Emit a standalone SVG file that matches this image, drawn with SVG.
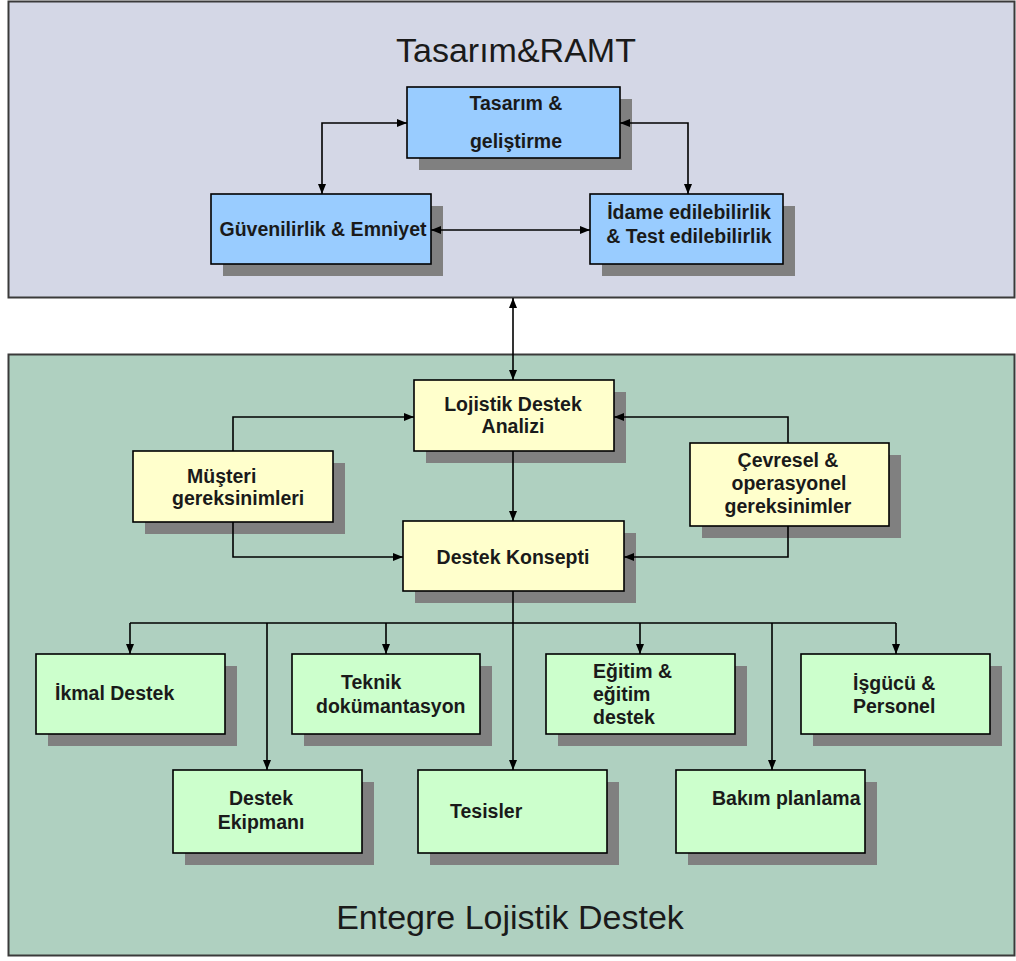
<svg xmlns="http://www.w3.org/2000/svg" width="1016" height="961" viewBox="0 0 1016 961">
  <defs>
    <!-- fixed-direction arrowheads -->
    <marker id="arrow-r" viewBox="0 0 10 8" refX="10" refY="4" markerWidth="10" markerHeight="8" markerUnits="userSpaceOnUse" overflow="visible">
      <path d="M0,0 L10,4 L0,8 z" fill="#000"/>
    </marker>
    <marker id="arrow-l" viewBox="0 0 10 8" refX="0" refY="4" markerWidth="10" markerHeight="8" markerUnits="userSpaceOnUse" overflow="visible">
      <path d="M10,0 L0,4 L10,8 z" fill="#000"/>
    </marker>
    <marker id="arrow-d" viewBox="0 0 8 10" refX="4" refY="10" markerWidth="8" markerHeight="10" markerUnits="userSpaceOnUse" overflow="visible">
      <path d="M0,0 L8,0 L4,10 z" fill="#000"/>
    </marker>
    <marker id="arrow-u" viewBox="0 0 8 10" refX="4" refY="0" markerWidth="8" markerHeight="10" markerUnits="userSpaceOnUse" overflow="visible">
      <path d="M0,10 L8,10 L4,0 z" fill="#000"/>
    </marker>
    <style>
      .panel { stroke: #3a3a3a; stroke-width: 2; }
      .shadow { fill: #808080; }
      .box { stroke: #000; stroke-width: 1.6; }
      .blue { fill: #99CCFF; }
      .yellow { fill: #FFFFCC; }
      .green { fill: #CCFFCC; }
      .lbl { font-family: "Liberation Sans", Arial, sans-serif; font-weight: bold; font-size: 19.5px; fill: #1a1a1a; }
      .mid { text-anchor: middle; }
      .title { font-family: "Liberation Sans", Arial, sans-serif; font-size: 34px; fill: #1a1a1a; text-anchor: middle; }
      .wire { fill: none; stroke: #000; stroke-width: 1.6; }
    </style>
  </defs>

  <!-- background panels -->
  <rect x="0" y="0" width="1016" height="961" fill="#ffffff"/>
  <g id="panel-ramt">
    <rect class="panel" x="8.5" y="1.5" width="1006" height="296" fill="#D4D7E6"/>
    <text class="title" x="516" y="62">Tasarım&amp;RAMT</text>
  </g>
  <g id="panel-eld">
    <rect class="panel" x="8.5" y="354.5" width="1006" height="601" fill="#AFD0C0"/>
    <text class="title" x="510" y="929">Entegre Lojistik Destek</text>
  </g>

  <!-- design / RAMT nodes -->
  <g id="tasarim">
    <rect class="shadow" x="419" y="99" width="213" height="71"/>
    <rect class="box blue" x="407" y="87" width="213" height="71"/>
    <text class="lbl mid" x="516" y="110">Tasarım &amp;</text>
    <text class="lbl mid" x="516" y="148">geliştirme</text>
  </g>
  <g id="guvenilirlik">
    <rect class="shadow" x="223" y="206" width="220" height="70"/>
    <rect class="box blue" x="211" y="194" width="220" height="70"/>
    <text class="lbl mid" x="323" y="236">Güvenilirlik &amp; Emniyet</text>
  </g>
  <g id="idame">
    <rect class="shadow" x="602" y="206" width="193" height="70"/>
    <rect class="box blue" x="590" y="194" width="193" height="70"/>
    <text class="lbl mid" x="689" y="219">İdame edilebilirlik</text>
    <text class="lbl mid" x="689" y="243">&amp; Test edilebilirlik</text>
  </g>

  <!-- logistics analysis nodes -->
  <g id="lda">
    <rect class="shadow" x="426" y="392" width="200" height="71"/>
    <rect class="box yellow" x="414" y="380" width="200" height="71"/>
    <text class="lbl mid" x="513" y="411">Lojistik Destek</text>
    <text class="lbl mid" x="513" y="433">Analizi</text>
  </g>
  <g id="musteri">
    <rect class="shadow" x="145" y="463" width="200" height="71"/>
    <rect class="box yellow" x="133" y="451" width="200" height="71"/>
    <text class="lbl" x="187" y="483">Müşteri</text>
    <text class="lbl" x="172" y="505">gereksinimleri</text>
  </g>
  <g id="cevresel">
    <rect class="shadow" x="702" y="455" width="199" height="83"/>
    <rect class="box yellow" x="690" y="443" width="199" height="83"/>
    <text class="lbl mid" x="788" y="467">Çevresel &amp;</text>
    <text class="lbl mid" x="789" y="490">operasyonel</text>
    <text class="lbl mid" x="788" y="513">gereksinimler</text>
  </g>
  <g id="destek-konsepti">
    <rect class="shadow" x="415" y="533" width="221" height="70"/>
    <rect class="box yellow" x="403" y="521" width="221" height="70"/>
    <text class="lbl mid" x="513" y="564">Destek Konsepti</text>
  </g>

  <!-- support element nodes -->
  <g id="ikmal">
    <rect class="shadow" x="48" y="666" width="189" height="80"/>
    <rect class="box green" x="36" y="654" width="189" height="80"/>
    <text class="lbl" x="55" y="700">İkmal Destek</text>
  </g>
  <g id="teknik">
    <rect class="shadow" x="304" y="666" width="188" height="80"/>
    <rect class="box green" x="292" y="654" width="188" height="80"/>
    <text class="lbl" x="341" y="689">Teknik</text>
    <text class="lbl" x="316" y="713">dokümantasyon</text>
  </g>
  <g id="egitim">
    <rect class="shadow" x="558" y="666" width="189" height="80"/>
    <rect class="box green" x="546" y="654" width="189" height="80"/>
    <text class="lbl" x="593" y="678">Eğitim &amp;</text>
    <text class="lbl" x="593" y="701">eğitim</text>
    <text class="lbl" x="593" y="724">destek</text>
  </g>
  <g id="isgucu">
    <rect class="shadow" x="813" y="666" width="189" height="80"/>
    <rect class="box green" x="801" y="654" width="189" height="80"/>
    <text class="lbl" x="853" y="690">İşgücü &amp;</text>
    <text class="lbl" x="853" y="713">Personel</text>
  </g>
  <g id="destek-ekipmani">
    <rect class="shadow" x="185" y="782" width="189" height="83"/>
    <rect class="box green" x="173" y="770" width="189" height="83"/>
    <text class="lbl mid" x="261" y="805">Destek</text>
    <text class="lbl mid" x="261" y="829">Ekipmanı</text>
  </g>
  <g id="tesisler">
    <rect class="shadow" x="430" y="782" width="189" height="83"/>
    <rect class="box green" x="418" y="770" width="189" height="83"/>
    <text class="lbl" x="450" y="818">Tesisler</text>
  </g>
  <g id="bakim">
    <rect class="shadow" x="688" y="782" width="189" height="83"/>
    <rect class="box green" x="676" y="770" width="189" height="83"/>
    <text class="lbl" x="712" y="805">Bakım planlama</text>
  </g>

  <!-- connectors, drawn over the drop shadows -->
  <g id="connectors">
    <path class="wire" d="M407,123 H322 V194" marker-start="url(#arrow-r)" marker-end="url(#arrow-d)"/>
    <path class="wire" d="M620,123 H688 V194" marker-start="url(#arrow-l)" marker-end="url(#arrow-d)"/>
    <path class="wire" d="M431,230 H590" marker-start="url(#arrow-l)" marker-end="url(#arrow-r)"/>
    <path class="wire" d="M513,298 V380" marker-start="url(#arrow-u)" marker-end="url(#arrow-d)"/>
    <path class="wire" d="M233,451 V417 H414" marker-end="url(#arrow-r)"/>
    <path class="wire" d="M788,443 V417 H614" marker-end="url(#arrow-l)"/>
    <path class="wire" d="M513,451 V521" marker-end="url(#arrow-d)"/>
    <path class="wire" d="M233,522 V557 H403" marker-end="url(#arrow-r)"/>
    <path class="wire" d="M788,526 V557 H624" marker-end="url(#arrow-l)"/>
    <path class="wire" d="M513,591 V770" marker-end="url(#arrow-d)"/>
    <path class="wire" d="M130,623 H896"/>
    <path class="wire" d="M130,623 V654" marker-end="url(#arrow-d)"/>
    <path class="wire" d="M267,623 V770" marker-end="url(#arrow-d)"/>
    <path class="wire" d="M386,623 V654" marker-end="url(#arrow-d)"/>
    <path class="wire" d="M640,623 V654" marker-end="url(#arrow-d)"/>
    <path class="wire" d="M772,623 V770" marker-end="url(#arrow-d)"/>
    <path class="wire" d="M896,623 V654" marker-end="url(#arrow-d)"/>
  </g>
</svg>
